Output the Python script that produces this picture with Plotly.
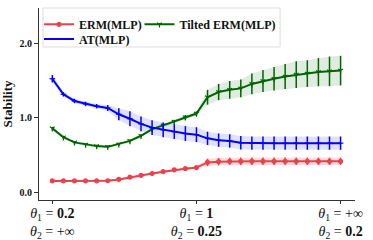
import plotly.graph_objects as go

x_idx = list(range(27))
tick_vals = [0, 13, 26]
tick_text = [
    "<i>θ</i><sub>1</sub> = <b>0.2</b><br><i>θ</i><sub>2</sub> = +∞",
    "<i>θ</i><sub>1</sub> = <b>1</b><br><i>θ</i><sub>2</sub> = <b>0.25</b>",
    "<i>θ</i><sub>1</sub> = +∞<br><i>θ</i><sub>2</sub> = <b>0.2</b>",
]

erm = [0.15, 0.15, 0.15, 0.15, 0.15, 0.152, 0.17, 0.20, 0.225, 0.25, 0.275, 0.30, 0.315, 0.33,
       0.40, 0.41, 0.415, 0.415, 0.415, 0.415, 0.415, 0.415, 0.415, 0.415, 0.415, 0.415, 0.415]
erm_err = [0.015] * 14 + [0.05] * 13

at = [1.53, 1.32, 1.23, 1.19, 1.16, 1.135, 1.05, 0.99, 0.92, 0.87, 0.84, 0.815, 0.79, 0.775,
      0.725, 0.70, 0.69, 0.665, 0.66, 0.66, 0.66, 0.66, 0.66, 0.66, 0.66, 0.66, 0.66]
at_err = [0.05, 0.03, 0.03, 0.03, 0.03, 0.04, 0.08, 0.1, 0.1, 0.1, 0.1, 0.1, 0.1, 0.1,
          0.09, 0.09, 0.09, 0.09, 0.09, 0.09, 0.09, 0.09, 0.09, 0.09, 0.09, 0.09, 0.09]

tilted = [0.86, 0.74, 0.67, 0.64, 0.62, 0.61, 0.645, 0.69, 0.76, 0.85, 0.90, 0.95, 1.01, 1.06,
          1.28, 1.35, 1.38, 1.40, 1.46, 1.50, 1.53, 1.56, 1.585, 1.60, 1.62, 1.63, 1.64]
tilted_err = [0.02, 0.02, 0.02, 0.02, 0.02, 0.02, 0.02, 0.02, 0.02, 0.02, 0.025, 0.025, 0.03, 0.03,
              0.1, 0.11, 0.12, 0.12, 0.14, 0.15, 0.16, 0.17, 0.18, 0.18, 0.19, 0.2, 0.2]

series = [
    ("ERM(MLP)", erm, erm_err, "#e8434d", "rgba(232,67,77,0.18)", "circle", "legend"),
    ("Tilted ERM(MLP)", tilted, tilted_err, "#006400", "rgba(0,100,0,0.12)", "y-down-open", "legend2"),
    ("AT(MLP)", at, at_err, "#0000ff", "rgba(0,0,255,0.12)", "line-ew", "legend3"),
]

fig = go.Figure()
for name, y, e, col, fcol, sym, lg in series:
    lo = [a - b for a, b in zip(y, e)]
    hi = [a + b for a, b in zip(y, e)]
    fig.add_trace(go.Scatter(x=x_idx + x_idx[::-1], y=hi + lo[::-1], fill="toself",
                             fillcolor=fcol, line=dict(width=0), hoverinfo="skip",
                             showlegend=False))
for name, y, e, col, fcol, sym, lg in series:
    fig.add_trace(go.Scatter(
        x=x_idx, y=y, name="<b>" + name + "</b>", mode="lines+markers", legend=lg,
        line=dict(color=col, width=2),
        marker=dict(color=col, size=4, symbol=sym, line=dict(color=col, width=1.2)),
        error_y=dict(type="data", array=e, color=col, thickness=1.5, width=0),
    ))

font = "Liberation Serif, Times New Roman, serif"
leg_common = dict(
    orientation="v", xanchor="left", yanchor="middle",
    font=dict(family=font, size=12, color="#111"),
    bgcolor="rgba(0,0,0,0)", borderwidth=0, itemwidth=30, tracegroupgap=0,
)
fig.update_layout(
    width=373, height=240,
    margin=dict(l=39, r=18, t=8, b=40),
    plot_bgcolor="white", paper_bgcolor="white",
    font=dict(family=font, size=11, color="#111"),
    showlegend=True,
    legend=dict(x=0.0, y=0.915, **leg_common),
    legend2=dict(x=0.318, y=0.915, **leg_common),
    legend3=dict(x=0.0, y=0.838, **leg_common),
    shapes=[dict(type="rect", xref="paper", yref="paper", x0=0.0127, x1=0.763,
                 y0=0.797, y1=1.0, line=dict(color="#dddddd", width=1),
                 fillcolor="rgba(255,255,255,0.8)", layer="below")],
    xaxis=dict(
        range=[-1.2, 27.3], tickmode="array", tickvals=tick_vals, ticktext=tick_text,
        showgrid=False, zeroline=False, showline=True, linecolor="#333", linewidth=1,
        ticks="outside", ticklen=3, tickcolor="#333", automargin=False,
        ticklabelstandoff=-3,
        tickfont=dict(family=font, size=14, color="#111"),
    ),
    yaxis=dict(
        range=[-0.108, 2.486], tickmode="array", tickvals=[0, 1, 2],
        ticktext=["<b>0.0</b>", "<b>1.0</b>", "<b>2.0</b>"],
        showgrid=False, zeroline=False, showline=True, linecolor="#333", linewidth=1,
        ticks="outside", ticklen=4, tickcolor="#333", automargin=False,
        tickfont=dict(family=font, size=10, color="#111"),
        title=dict(text="<b>Stability</b>", font=dict(family=font, size=13, color="#111"),
                   standoff=4),
    ),
)
fig.write_html("out.html", config={"displayModeBar": False},
               post_script="document.body.style.margin='0';")
